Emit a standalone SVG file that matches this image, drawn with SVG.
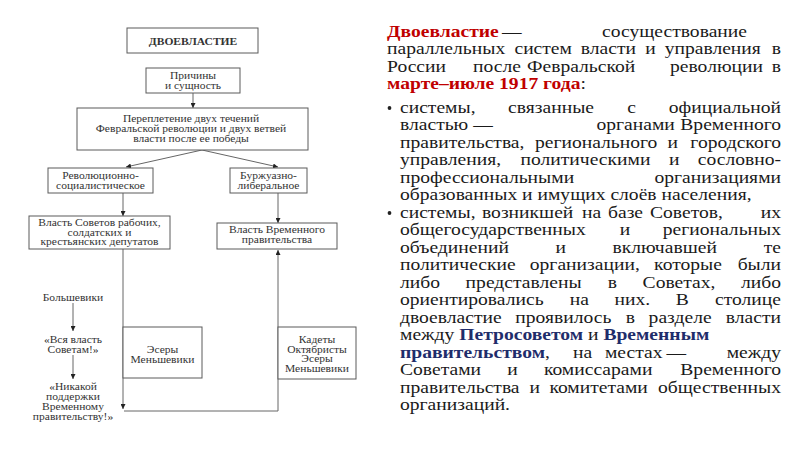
<svg xmlns="http://www.w3.org/2000/svg" width="800" height="450" viewBox="0 0 800 450">
<defs>
<style>
.box{fill:#fff;stroke:#5a5a5a;stroke-width:1}
.dt{font-family:"Liberation Serif","Times New Roman",serif;font-size:9.6px;fill:#333;text-anchor:middle}
.db{font-weight:bold}
.con{fill:none;stroke:#666;stroke-width:1}
.rt{font-family:"Liberation Serif","Times New Roman",serif;font-size:17.5px;fill:#1a1a1a}
.red{fill:#c00000;font-weight:bold}
.navy{fill:#1f2d6b;font-weight:bold}
.e{text-anchor:end}
</style>
<marker id="ah" viewBox="0 0 10 10" refX="10" refY="5" markerWidth="5" markerHeight="5" orient="auto" markerUnits="userSpaceOnUse">
<path d="M0,0 L10,5 L0,10 z" fill="#222"/>
</marker>
</defs>
<rect width="800" height="450" fill="#fff"/>

<g id="connectors">
<line class="con" x1="193" y1="93" x2="193" y2="108" marker-end="url(#ah)"/>
<line class="con" x1="202" y1="150" x2="126" y2="167" marker-end="url(#ah)"/>
<line class="con" x1="202" y1="150" x2="278" y2="167" marker-end="url(#ah)"/>
<line class="con" x1="123" y1="193" x2="123" y2="216" marker-end="url(#ah)"/>
<line class="con" x1="278" y1="193" x2="278" y2="223" marker-end="url(#ah)"/>
<line class="con" x1="123" y1="249" x2="123" y2="409" marker-end="url(#ah)"/>
<path class="con" d="M124,411 H278 V250" marker-end="url(#ah)"/>
<line class="con" x1="73" y1="303" x2="73" y2="331" marker-end="url(#ah)"/>
<line class="con" x1="73" y1="355" x2="73" y2="379" marker-end="url(#ah)"/>
</g>

<g id="n-dvoevlastie">
<rect class="box" x="127" y="28" width="131" height="25"/>
<text class="dt db" transform="translate(193,44.5) scale(1.2,1)">ДВОЕВЛАСТИЕ</text>
</g>
<g id="n-prichiny">
<rect class="box" x="146" y="68" width="94" height="25"/>
<text class="dt" transform="translate(193,78.5) scale(1.2,1)">Причины</text>
<text class="dt" transform="translate(193,88.5) scale(1.2,1)">и сущность</text>
</g>
<g id="n-perepletenie">
<rect class="box" x="77" y="108" width="231" height="42"/>
<text class="dt" transform="translate(191,122) scale(1.2,1)">Переплетение двух течений</text>
<text class="dt" transform="translate(191,132) scale(1.2,1)">Февральской революции и двух ветвей</text>
<text class="dt" transform="translate(191,142) scale(1.2,1)">власти после ее победы</text>
</g>
<g id="n-revsoc">
<rect class="box" x="48" y="168" width="105" height="25"/>
<text class="dt" transform="translate(100.5,179) scale(1.2,1)">Революционно-</text>
<text class="dt" transform="translate(100.5,189) scale(1.2,1)">социалистическое</text>
</g>
<g id="n-burzh">
<rect class="box" x="230" y="168" width="77" height="25"/>
<text class="dt" transform="translate(268.5,179) scale(1.2,1)">Буржуазно-</text>
<text class="dt" transform="translate(268.5,189) scale(1.2,1)">либеральное</text>
</g>
<g id="n-sovety">
<rect class="box" x="29" y="216" width="141" height="33"/>
<text class="dt" transform="translate(99.5,226) scale(1.2,1)">Власть Советов рабочих,</text>
<text class="dt" transform="translate(99.5,235.5) scale(1.2,1)">солдатских и</text>
<text class="dt" transform="translate(99.5,245) scale(1.2,1)">крестьянских депутатов</text>
</g>
<g id="n-vremennoe">
<rect class="box" x="217" y="223" width="120" height="26"/>
<text class="dt" transform="translate(277,233) scale(1.2,1)">Власть Временного</text>
<text class="dt" transform="translate(277,242.5) scale(1.2,1)">правительства</text>
</g>
<g id="n-esery">
<rect class="box" x="123" y="327" width="79" height="51"/>
<text class="dt" transform="translate(162.5,353) scale(1.2,1)">Эсеры</text>
<text class="dt" transform="translate(162.5,363) scale(1.2,1)">Меньшевики</text>
</g>
<g id="n-kadety">
<rect class="box" x="278" y="327" width="78" height="52"/>
<text class="dt" transform="translate(317,343) scale(1.2,1)">Кадеты</text>
<text class="dt" transform="translate(317,352.5) scale(1.2,1)">Октябристы</text>
<text class="dt" transform="translate(317,362) scale(1.2,1)">Эсеры</text>
<text class="dt" transform="translate(317,371.5) scale(1.2,1)">Меньшевики</text>
</g>
<g id="n-bolsheviki">
<text class="dt" transform="translate(73,301) scale(1.2,1)">Большевики</text>
</g>
<g id="n-vsya">
<text class="dt" transform="translate(73,343) scale(1.2,1)">«Вся власть</text>
<text class="dt" transform="translate(73,352.5) scale(1.2,1)">Советам!»</text>
</g>
<g id="n-nikakoy">
<text class="dt" transform="translate(73,390) scale(1.2,1)">«Никакой</text>
<text class="dt" transform="translate(73,400) scale(1.2,1)">поддержки</text>
<text class="dt" transform="translate(73,410) scale(1.2,1)">Временному</text>
<text class="dt" transform="translate(73,419.5) scale(1.2,1)">правительству!»</text>
</g>

<g id="bullets" fill="#222">
<circle cx="389.5" cy="108" r="1.9"/>
<circle cx="389.5" cy="213" r="1.9"/>
</g>

<g id="text-right" class="rt" transform="translate(387,0) scale(1.12,1)">
<text y="37"><tspan x="0" class="red">Двоевластие</tspan><tspan x="102.7">—</tspan><tspan x="192">сосуществование</tspan></text>
<text y="54.5"><tspan x="0">параллельных</tspan><tspan x="113.8">систем</tspan><tspan x="173.1">власти</tspan><tspan x="230.6">и</tspan><tspan x="247.9">управления</tspan><tspan x="351.8" class="e">в</tspan></text>
<text y="72"><tspan x="0">России</tspan><tspan x="76.8">после</tspan><tspan x="125">Февральской</tspan><tspan x="252.7">революции</tspan><tspan x="351.8" class="e">в</tspan></text>
<text y="89.5"><tspan x="0" class="red">марте–июле 1917 года</tspan><tspan>:</tspan></text>

<text y="113"><tspan x="11.6">системы,</tspan><tspan x="108.1">связанные</tspan><tspan x="214.6">с</tspan><tspan x="351.8" class="e">официальной</tspan></text>
<text y="130.5"><tspan x="11.6">властью —</tspan><tspan x="187">органами</tspan><tspan x="351.8" class="e">Временного</tspan></text>
<text y="148"><tspan x="11.6">правительства,</tspan><tspan x="132.1">регионального</tspan><tspan x="250.4">и</tspan><tspan x="351.8" class="e">городского</tspan></text>
<text y="165.5"><tspan x="11.6">управления,</tspan><tspan x="119.2">политическими</tspan><tspan x="251.7">и</tspan><tspan x="351.8" class="e">сословно-</tspan></text>
<text y="183"><tspan x="11.6">профессиональными</tspan><tspan x="351.8" class="e">организациями</tspan></text>
<text y="200.5" x="11.6">образованных и имущих слоёв населения,</text>

<text y="218"><tspan x="11.6">системы,</tspan><tspan x="84.8">возникшей</tspan><tspan x="174.1">на</tspan><tspan x="197.3">базе</tspan><tspan x="234.8">Советов,</tspan><tspan x="351.8" class="e">их</tspan></text>
<text y="235.5"><tspan x="11.6">общегосударственных</tspan><tspan x="207.8">и</tspan><tspan x="351.8" class="e">региональных</tspan></text>
<text y="253"><tspan x="11.6">объединений</tspan><tspan x="150.5">и</tspan><tspan x="201.3">включавшей</tspan><tspan x="351.8" class="e">те</tspan></text>
<text y="270.5"><tspan x="11.6">политические</tspan><tspan x="127.5">организации,</tspan><tspan x="238.5">которые</tspan><tspan x="351.8" class="e">были</tspan></text>
<text y="288"><tspan x="11.6">либо</tspan><tspan x="70.2">представлены</tspan><tspan x="197">в</tspan><tspan x="228.2">Советах,</tspan><tspan x="351.8" class="e">либо</tspan></text>
<text y="305.5"><tspan x="11.6">ориентировались</tspan><tspan x="163.1">на</tspan><tspan x="203.1">них.</tspan><tspan x="257.9">В</tspan><tspan x="351.8" class="e">столице</tspan></text>
<text y="323"><tspan x="11.6">двоевластие</tspan><tspan x="114.6">проявилось</tspan><tspan x="213.2">в</tspan><tspan x="233.6">разделе</tspan><tspan x="351.8" class="e">власти</tspan></text>
<text y="340.5" x="11.6">между <tspan class="navy">Петросоветом</tspan> и <tspan class="navy">Временным</tspan></text>
<text y="358"><tspan x="11.6" class="navy">правительством</tspan><tspan>,</tspan><tspan x="166.1">на</tspan><tspan x="194.6">местах</tspan><tspan x="249.6">—</tspan><tspan x="351.8" class="e">между</tspan></text>
<text y="375.5"><tspan x="11.6">Советами</tspan><tspan x="107.3">и</tspan><tspan x="140.1">комиссарами</tspan><tspan x="351.8" class="e">Временного</tspan></text>
<text y="393"><tspan x="11.6">правительства</tspan><tspan x="127.3">и</tspan><tspan x="145">комитетами</tspan><tspan x="351.8" class="e">общественных</tspan></text>
<text y="410.5" x="11.6">организаций.</text>
</g>
</svg>
